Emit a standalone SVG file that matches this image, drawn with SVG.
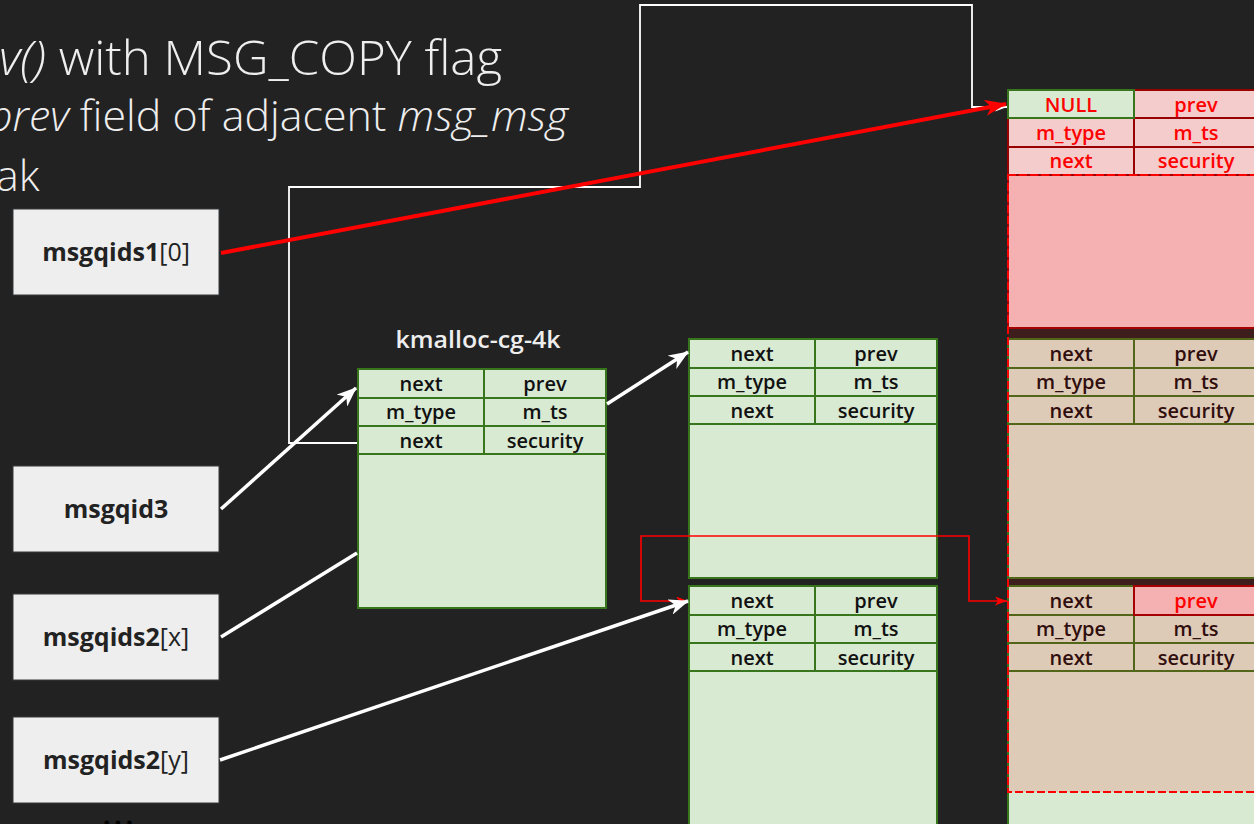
<svg xmlns="http://www.w3.org/2000/svg" width="1254" height="824" viewBox="0 0 1254 824">
<defs>
<style>
.title{font-family:"Open Sans","Liberation Sans",sans-serif;font-weight:300;fill:#eeeeee}
.it{font-style:italic}
.blk{fill:#d9ead3;stroke:#38761d;stroke-width:2}
.div{stroke:#38761d;stroke-width:2;fill:none}
.rblk{fill:#f4cccc;stroke:#990000;stroke-width:2}
.gcell{fill:#d9ead3;stroke:#38761d;stroke-width:2}
.ct{font-family:"Open Sans","Liberation Sans",sans-serif;font-weight:600;font-size:20px;text-anchor:middle;fill:#111111}
.ctr{fill:#ff0000}
.box{fill:#eeeeee;stroke:#36393d;stroke-width:1}
.bt{font-family:"Open Sans","Liberation Sans",sans-serif;font-weight:700;font-size:25px;text-anchor:middle;fill:#222222}
.bt .n{font-weight:400}
.lbl{font-family:"Open Sans","Liberation Sans",sans-serif;font-weight:600;font-size:23px;text-anchor:middle;fill:#eeeeee}
.wthick{stroke:#ffffff;stroke-width:3.5;fill:none}
.wthin{stroke:#ffffff;stroke-width:1.8;fill:none}
.rthick{stroke:#ff0000;stroke-width:4;fill:none}
.rthin{stroke:#ff0000;stroke-width:1.6;fill:none}
</style>
<marker id="aW" markerUnits="userSpaceOnUse" viewBox="0 0 20 16" markerWidth="20" markerHeight="16" refX="19" refY="8" orient="auto"><path d="M0,0 L20,8 L0,16 L6,8 z" fill="#ffffff"/></marker>
<marker id="aR" markerUnits="userSpaceOnUse" viewBox="0 0 22 16" markerWidth="22" markerHeight="16" refX="21" refY="8" orient="auto"><path d="M0,0 L22,8 L0,16 L6,8 z" fill="#ff0000"/></marker>
<marker id="aWs" markerUnits="userSpaceOnUse" viewBox="0 0 12 9" markerWidth="12" markerHeight="9" refX="12" refY="4.5" orient="auto"><path d="M0,0 L12,4.5 L0,9 L3,4.5 z" fill="#ffffff"/></marker>
<marker id="aRs" markerUnits="userSpaceOnUse" viewBox="0 0 12 9" markerWidth="12" markerHeight="9" refX="12" refY="4.5" orient="auto-start-reverse"><path d="M0,0 L12,4.5 L0,9 L3,4.5 z" fill="#ff0000"/></marker>
</defs>
<rect x="0" y="0" width="1254" height="824" fill="#222222"/>

<g id="heading">
<text class="title" x="-1" y="75" font-size="48" textLength="503" lengthAdjust="spacingAndGlyphs"><tspan class="it">v()</tspan> with MSG_COPY flag</text>
<text class="title" x="-12" y="131" font-size="43" textLength="580" lengthAdjust="spacingAndGlyphs"><tspan class="it">prev</tspan> field of adjacent <tspan class="it">msg_msg</tspan></text>
<text class="title" x="-4" y="191" font-size="43">ak</text>
</g>

<g id="msgqids1_0"><rect class="box" x="13" y="209" width="206" height="86"/><text class="bt" x="116" y="261">msgqids1<tspan class="n">[0]</tspan></text></g>
<g id="msgqid3"><rect class="box" x="13" y="466" width="206" height="86"/><text class="bt" x="116" y="518">msgqid3</text></g>
<g id="msgqids2_x"><rect class="box" x="13" y="594" width="206" height="86"/><text class="bt" x="116" y="646">msgqids2<tspan class="n">[x]</tspan></text></g>
<g id="msgqids2_y"><rect class="box" x="13" y="717" width="206" height="86"/><text class="bt" x="116" y="769">msgqids2<tspan class="n">[y]</tspan></text></g>
<g id="ellipsis"><text x="120" y="825" font-family="Open Sans, sans-serif" font-weight="700" font-size="26" letter-spacing="4" text-anchor="middle" fill="#000000">...</text></g>

<g id="kmalloc_block">
<text class="lbl" x="478" y="348" textLength="165" lengthAdjust="spacingAndGlyphs">kmalloc-cg-4k</text>
<rect class="blk" x="358" y="369" width="248" height="239"/>
<path class="div" d="M358,398 H606 M358,426 H606 M358,454 H606 M484,369 V454"/>
<text class="ct" x="421" y="391">next</text><text class="ct" x="545" y="391">prev</text>
<text class="ct" x="421" y="419">m_type</text><text class="ct" x="545" y="419">m_ts</text>
<text class="ct" x="421" y="448">next</text><text class="ct" x="545" y="448">security</text>
</g>

<g id="mid_upper_block">
<rect class="blk" x="689" y="339" width="248" height="239"/>
<path class="div" d="M689,368 H937 M689,396 H937 M689,424 H937 M815,339 V424"/>
<text class="ct" x="752" y="361">next</text><text class="ct" x="876" y="361">prev</text>
<text class="ct" x="752" y="389">m_type</text><text class="ct" x="876" y="389">m_ts</text>
<text class="ct" x="752" y="418">next</text><text class="ct" x="876" y="418">security</text>
</g>

<g id="mid_lower_block">
<rect class="blk" x="689" y="586" width="248" height="260"/>
<path class="div" d="M689,615 H937 M689,643 H937 M689,671 H937 M815,586 V671"/>
<text class="ct" x="752" y="608">next</text><text class="ct" x="876" y="608">prev</text>
<text class="ct" x="752" y="636">m_type</text><text class="ct" x="876" y="636">m_ts</text>
<text class="ct" x="752" y="665">next</text><text class="ct" x="876" y="665">security</text>
</g>

<g id="right_top_block">
<rect class="rblk" x="1008" y="90" width="252" height="238"/>
<rect class="rblk" x="1134" y="90" width="126" height="28"/>
<rect class="rblk" x="1008" y="118" width="126" height="29"/><rect class="rblk" x="1134" y="118" width="126" height="29"/>
<rect class="rblk" x="1008" y="147" width="126" height="28"/><rect class="rblk" x="1134" y="147" width="126" height="28"/>
<rect class="gcell" x="1008" y="90" width="126" height="28"/>
<text class="ct ctr" x="1071" y="112">NULL</text><text class="ct ctr" x="1196" y="112">prev</text>
<text class="ct ctr" x="1071" y="140">m_type</text><text class="ct ctr" x="1196" y="140">m_ts</text>
<text class="ct ctr" x="1071" y="168">next</text><text class="ct ctr" x="1196" y="168">security</text>
</g>

<g id="right_mid_block">
<rect class="blk" x="1008" y="339" width="252" height="239"/>
<path class="div" d="M1008,368 H1260 M1008,396 H1260 M1008,424 H1260 M1134,339 V424"/>
<text class="ct" x="1071" y="361">next</text><text class="ct" x="1196" y="361">prev</text>
<text class="ct" x="1071" y="389">m_type</text><text class="ct" x="1196" y="389">m_ts</text>
<text class="ct" x="1071" y="418">next</text><text class="ct" x="1196" y="418">security</text>
</g>

<g id="right_low_block">
<rect class="blk" x="1008" y="586" width="252" height="260"/>
<path class="div" d="M1008,615 H1260 M1008,643 H1260 M1008,671 H1260 M1134,615 V671"/>
<rect class="rblk" x="1134" y="586" width="126" height="29"/>
<text class="ct" x="1071" y="608">next</text><text class="ct ctr" x="1196" y="608">prev</text>
<text class="ct" x="1071" y="636">m_type</text><text class="ct" x="1196" y="636">m_ts</text>
<text class="ct" x="1071" y="665">next</text><text class="ct" x="1196" y="665">security</text>
</g>

<g id="overlap_region">
<rect x="1008" y="175" width="260" height="617" fill="#ff0000" fill-opacity="0.13" stroke="#ff0000" stroke-width="2" stroke-dasharray="8 3"/>
</g>

<g id="connectors">
<path class="wthin" d="M357,443 H289 V187 H640 V5 H972 V107 H1007" marker-end="url(#aWs)"/>
<path class="rthin" d="M688,601 H641 V536 H969 V601 H1007" marker-start="url(#aRs)" marker-end="url(#aRs)"/>
<line class="wthick" x1="221" y1="509" x2="356" y2="388" marker-end="url(#aW)"/>
<line class="wthick" x1="221" y1="637" x2="357" y2="553"/>
<line class="wthick" x1="607" y1="404" x2="688" y2="352" marker-end="url(#aW)"/>
<line class="wthick" x1="220" y1="760" x2="688" y2="601" marker-end="url(#aW)"/>
<line class="rthick" x1="221" y1="253" x2="1006" y2="104" marker-end="url(#aR)"/>
</g>
</svg>
